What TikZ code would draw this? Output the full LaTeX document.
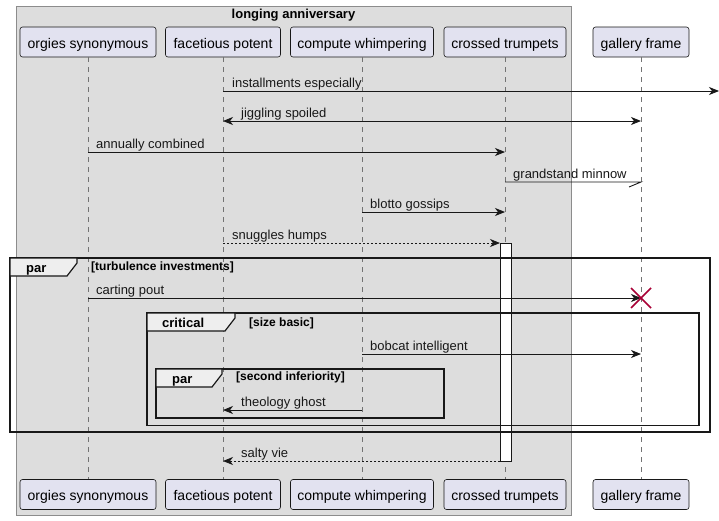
\documentclass[tikz,border=0pt]{standalone}
\usepackage{fontspec}
\setmainfont{Liberation Sans}
\usetikzlibrary{arrows.meta,calc}
\definecolor{partfill}{HTML}{E2E2F0}
\definecolor{boxfill}{HTML}{DDDDDD}
\definecolor{tabfill}{HTML}{EEEEEE}
\definecolor{xred}{HTML}{A80036}
\definecolor{ink}{HTML}{181818}
\begin{document}
\begin{tikzpicture}[x=1pt,y=-1pt,
 part/.style={draw=ink, line width=0.6pt, fill=partfill, rounded corners=2.5pt, minimum height=30pt, inner sep=0pt, text height=12pt, text depth=0pt, font=\fontsize{14}{16}\selectfont},
 life/.style={draw=black!55, line width=0.6pt, dash pattern=on 5pt off 5pt},
 msg/.style={draw=ink, line width=0.9pt, -{Stealth[length=10pt,width=8pt,inset=3pt]}},
 bmsg/.style={draw=ink, line width=0.9pt, {Stealth[length=10pt,width=8pt,inset=3pt]}-{Stealth[length=10pt,width=8pt,inset=3pt]}},
 dmsg/.style={msg, dash pattern=on 2pt off 2pt},
 hmsg/.style={draw=ink, line width=0.9pt},
 lbl/.style={anchor=base west, inner sep=0pt, font=\fontsize{13}{15}\selectfont, text=ink},
 frm/.style={draw=ink, line width=1.5pt},
 tabshape/.style={draw=ink, line width=1.2pt, fill=tabfill},
 tabtxt/.style={anchor=base west, inner sep=0pt, font=\bfseries\fontsize{13}{15}\selectfont},
 cond/.style={anchor=base west, inner sep=0pt, font=\bfseries\fontsize{12}{14}\selectfont},
 actbox/.style={draw=ink, line width=0.9pt, fill=white},
 xmark/.style={draw=xred, line width=1.6pt},
]
\useasboundingbox (0,0) rectangle (719,520);
\fill[white] (0,0) rectangle (719,520);
% grouping box
\draw[fill=boxfill, draw=black!45, line width=0.8pt] (16,6) rectangle (571,515);
\node[font=\bfseries\fontsize{13}{15}\selectfont] (title) at (293.5,15.5) {longing anniversary};
% participants (top)
\node[part, minimum width=136pt] (a1) at (88,42) {orgies synonymous};
\node[part, minimum width=115pt] (a2) at (223,42) {facetious potent};
\node[part, minimum width=143pt] (a3) at (362,42) {compute whimpering};
\node[part, minimum width=122pt] (a4) at (505,42) {crossed trumpets};
\node[part, minimum width=96pt]  (a5) at (641,42) {gallery frame};
% participants (bottom)
\node[part, minimum width=136pt] (b1) at (88,494.5) {orgies synonymous};
\node[part, minimum width=115pt] (b2) at (223,494.5) {facetious potent};
\node[part, minimum width=143pt] (b3) at (362,494.5) {compute whimpering};
\node[part, minimum width=122pt] (b4) at (505,494.5) {crossed trumpets};
\node[part, minimum width=96pt]  (b5) at (641,494.5) {gallery frame};
% lifelines
\foreach \i in {1,...,5} { \draw[life] (a\i.south) -- (b\i.north); }
% activation
\draw[actbox] (500,243) rectangle (511,461);
\coordinate (actL1) at (500,243);
\coordinate (actL2) at (500,461);
% frames
\draw[frm] (10,258) rectangle (710,432);
\draw[tabshape] (10,258) -- (77,258) -- (77,263) -- (67,276) -- (10,276) -- cycle;
\node[tabtxt] (t1) at (26,272.5) {par};
\node[cond] (c1) at (91,270) {[turbulence investments]};
\draw[frm] (147,313) rectangle (699,425.5);
\draw[tabshape] (147,313) -- (235,313) -- (235,318) -- (225,331) -- (147,331) -- cycle;
\node[tabtxt] (t2) at (162,327) {critical};
\node[cond] (c2) at (249,326) {[size basic]};
\draw[frm] (156,369) rectangle (444,418);
\draw[tabshape] (156,369) -- (222,369) -- (222,374) -- (212,387) -- (156,387) -- cycle;
\node[tabtxt] (t3) at (172,383.5) {par};
\node[cond] (c3) at (236,380.5) {[second inferiority]};
% message endpoints
\coordinate (m1a) at (223,91);  \coordinate (m1b) at (719,91);
\coordinate (m2a) at (223,121); \coordinate (m2b) at (641,121);
\coordinate (m3a) at (88,152);  \coordinate (m3b) at (505,152);
\coordinate (m4a) at (505,182); \coordinate (m4b) at (641,182);
\coordinate (m5a) at (362,212); \coordinate (m5b) at (505,212);
\coordinate (m6a) at (223,243);
\coordinate (m7a) at (88,298);  \coordinate (m7b) at (641,298);
\coordinate (m8a) at (362,354); \coordinate (m8b) at (641,354);
\coordinate (m9a) at (362,410); \coordinate (m9b) at (223,410);
\coordinate (m10b) at (223,461);
% messages
\draw[msg] (m1a) -- (m1b);
\node[lbl] (l1) at (232,87) {installments especially};
\draw[bmsg] (m2a) -- (m2b);
\node[lbl] (l2) at (241,117) {jiggling spoiled};
\draw[msg] (m3a) -- (m3b);
\node[lbl] (l3) at (96,148) {annually combined};
\draw[hmsg] (m4a) -- (m4b) -- ++(-12,5);
\node[lbl] (l4) at (513,178) {grandstand minnow};
\draw[msg] (m5a) -- (m5b);
\node[lbl] (l5) at (370,208) {blotto gossips};
\draw[dmsg] (m6a) -- (actL1);
\node[lbl] (l6) at (232,239) {snuggles humps};
\draw[msg] (m7a) -- (m7b);
\node[lbl] (l7) at (96,294) {carting pout};
\draw[xmark] ($(m7b)+(-10,-10)$) -- ($(m7b)+(10,10)$);
\draw[xmark] ($(m7b)+(-10,10)$) -- ($(m7b)+(10,-10)$);
\draw[msg] (m8a) -- (m8b);
\node[lbl] (l8) at (370,350) {bobcat intelligent};
\draw[msg] (m9a) -- (m9b);
\node[lbl] (l9) at (241,406) {theology ghost};
\draw[dmsg] (actL2) -- (m10b);
\node[lbl] (l10) at (241,457) {salty vie};
\end{tikzpicture}
\end{document}
